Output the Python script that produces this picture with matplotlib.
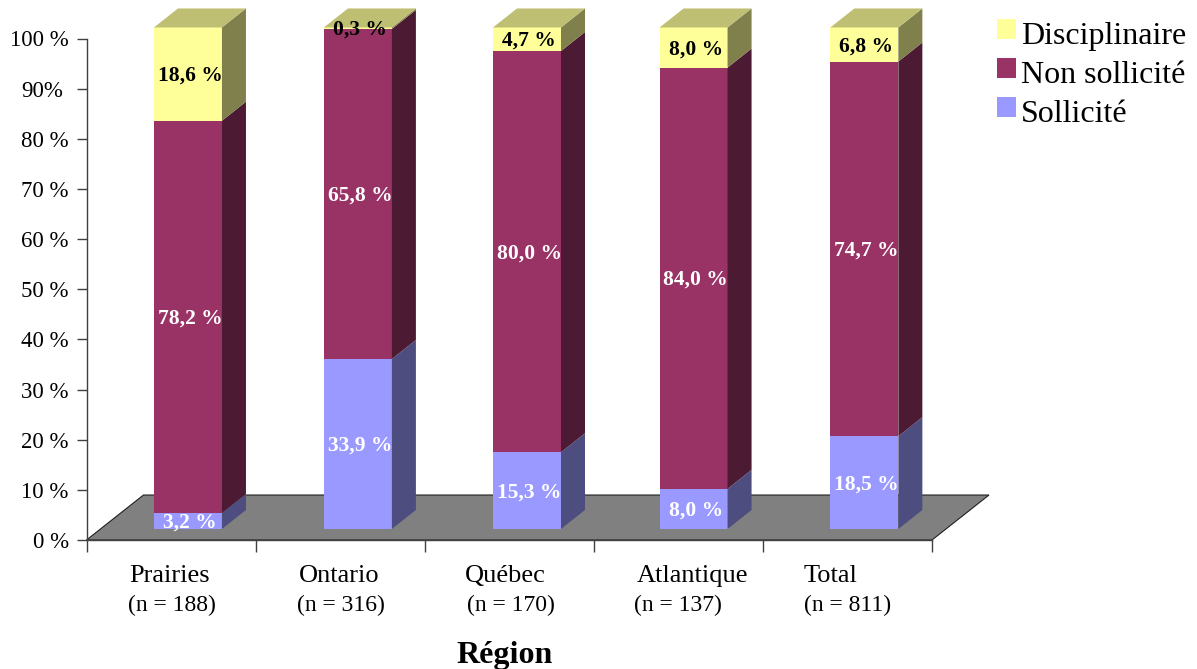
"""
Stacked 3D-style percentage bars by region, drawn with plain matplotlib patches.
"""

import matplotlib
matplotlib.use("Agg")
import matplotlib.pyplot as plt
from matplotlib.patches import Patch, Polygon
from matplotlib.transforms import ScaledTranslation

plt.rcParams["font.family"] = ["Liberation Serif", "DejaVu Serif"]

# data
regions = ["Prairies", "Ontario", "Québec", "Atlantique", "Total"]
counts = ["(n = 188)", "(n = 316)", "(n = 170)", "(n = 137)", "(n = 811)"]
sollicite = [3.2, 33.9, 15.3, 8.0, 18.5]
non_sollicite = [78.2, 65.8, 80.0, 84.0, 74.7]
disciplinaire = [18.6, 0.3, 4.7, 8.0, 6.8]
y_labels = ["0 %", "10 %", "20 %", "30 %", "40 %", "50 %", "60 %", "70 %", "80 %", "90%", "100 %"]

W, H = 1197, 669

# layout, in axis units unless noted
bar_x = [0.6, 1.605, 2.605, 3.59, 4.6]
bar_w = 0.402
base = 2.2          # bars stand a little in front of the floor's front edge
depth_x, depth_y = 0.142, 3.79
floor_x, floor_y = 0.337, 8.97
region_px = [170, 339, 505, 692, 831]
count_px = [172, 341, 511, 678, 848]

series = [
    (sollicite, "Sollicité", "#9999FF", "#4D4D80", "white"),
    (non_sollicite, "Non sollicité", "#993366", "#4D1A33", "white"),
    (disciplinaire, "Disciplinaire", "#FFFF99", "#80804D", "black"),
]
top_color = "#BFBF73"
axis_color = "#404040"

fig = plt.figure(figsize=(W / 100, H / 100), dpi=100)
ax = fig.add_axes([86.5 / W, (H - 540) / H, 845.5 / W, 501.5 / H])
ax.set_xlim(0, 5)
ax.set_ylim(0, 100)

for side in ("top", "right"):
    ax.spines[side].set_visible(False)
for side in ("left", "bottom"):
    ax.spines[side].set_color(axis_color)
    ax.spines[side].set_linewidth(1.0)

ax.add_patch(Polygon(
    [(0, 0), (5, 0), (5 + floor_x, floor_y), (floor_x, floor_y)],
    facecolor="#808080", edgecolor="#202020", linewidth=0.8, clip_on=False, zorder=1,
))

for i, x in enumerate(bar_x):
    left = x - bar_w / 2
    right = x + bar_w / 2
    bottom = base
    for values, _, front, dark, text_color in series:
        v = values[i]
        ax.bar(x, v, width=bar_w, bottom=bottom, color=front, linewidth=0, clip_on=False, zorder=3)
        ax.add_patch(Polygon(
            [(right, bottom), (right + depth_x, bottom + depth_y),
             (right + depth_x, bottom + v + depth_y), (right, bottom + v)],
            facecolor=dark, edgecolor="none", clip_on=False, zorder=3,
        ))
        bottom += v
    ax.add_patch(Polygon(
        [(left, bottom), (right, bottom), (right + depth_x, bottom + depth_y), (left + depth_x, bottom + depth_y)],
        facecolor=top_color, edgecolor="none", clip_on=False, zorder=3,
    ))

    # labels go on top of every face of the bar
    bottom = base
    for values, _, _, _, text_color in series:
        v = values[i]
        ax.text(x + 0.012, bottom + v / 2 - 0.35, f"{v:.1f} %".replace(".", ","), color=text_color,
                fontsize=15.5, fontweight="bold", ha="center", va="center", clip_on=False, zorder=5)
        bottom += v

ax.set_xticks(range(6))
ax.set_xticklabels([])
ax.set_yticks(range(0, 101, 10))
ax.set_yticklabels(y_labels)
ax.tick_params(axis="x", length=8.6, width=1.0, color=axis_color)
ax.tick_params(axis="y", length=7.2, width=1.0, color=axis_color, pad=5.5, labelsize=16.5)

# "90%" has no space, it starts where its neighbours start
lab90 = ax.get_yticklabels()[9]
lab90.set_transform(lab90.get_transform() + ScaledTranslation(-6 / 100, 0, fig.dpi_scale_trans))

for name, n, px, pn in zip(regions, counts, region_px, count_px):
    fig.text(px / W, 1 - 576 / H, name, fontsize=19, ha="center", va="center")
    fig.text(pn / W, 1 - 605 / H, n, fontsize=17, ha="center", va="center")

fig.text(505 / W, 1 - 656 / H, "Région", fontsize=23, fontweight="bold", ha="center", va="center")

handles = [Patch(facecolor=s[2], edgecolor="none", label=s[1]) for s in reversed(series)]
leg = fig.legend(
    handles=handles, loc="upper left", bbox_to_anchor=(997 / W, 1 - 22 / H),
    frameon=False, fontsize=23, handlelength=0.6, handleheight=0.6,
    handletextpad=0.15, labelspacing=0.31, borderpad=0, borderaxespad=0,
)
# the squares sit a little higher than the text beside them
for h in leg.legend_handles:
    h.set_y(h.get_y() + 2.5)

fig.savefig("out.png", dpi=100)
plt.close(fig)
